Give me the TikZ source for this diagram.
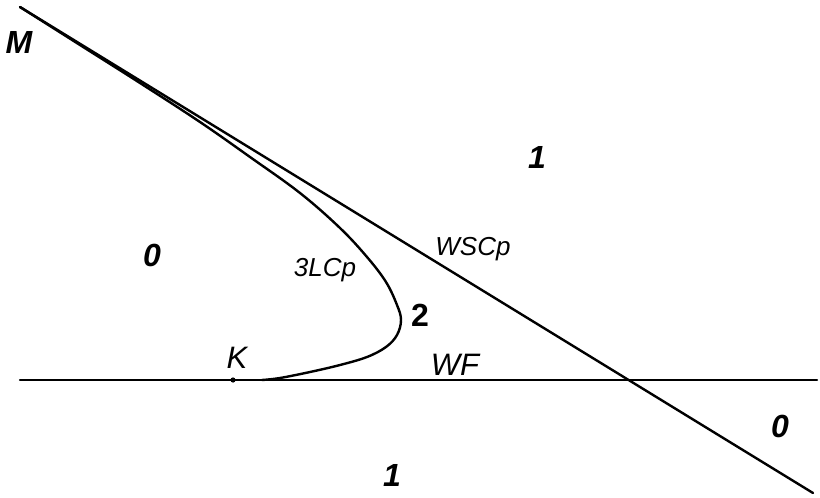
\documentclass[tikz,border=0pt]{standalone}
\usepackage{fontspec}
\setmainfont{Liberation Sans}
\begin{document}
\begin{tikzpicture}[x=1pt,y=-1pt,
  curveline/.style={line width=2.4pt,line cap=round,line join=round},
  lbl/.style={inner sep=0pt,font=\fontsize{31}{33}\selectfont\itshape},
  smalllbl/.style={inner sep=0pt,font=\fontsize{26}{28}\selectfont\itshape},
  region/.style={inner sep=0pt,font=\fontsize{32}{34}\selectfont\bfseries\itshape}]
\useasboundingbox (0,0) rectangle (820,498);
% coordinates
\coordinate (Mstart) at (20,7);
\coordinate (Mend) at (813,493);
\coordinate (Hl) at (20,380);
\coordinate (Hr) at (817,380);
\coordinate (Kpt) at (233,380);
% lines
\draw[curveline] (Hl) -- (Hr);
\draw[curveline] (Mstart) -- (Mend);
\draw[curveline] plot[smooth,tension=0.6] coordinates {(20,7) (80,45) (140,83) (200,122) (250,157) (300,193) (340,228) (367,257) (386,282) (397,305) (401,320) (397,335) (386,347) (367,357) (340,365) (310,372) (280,378) (262,380)};
\fill (Kpt) circle (2.6pt);
% labels
\node[region] (lM) at (19,42) {M};
\node[region] (l1a) at (537,157) {1};
\node[region] (l0a) at (152,255) {0};
\node[smalllbl] (l3LCp) at (325,270) {3LCp};
\node[smalllbl] (lWSCp) at (473,249) {WSCp};
\node[font=\fontsize{32}{34}\selectfont\bfseries,inner sep=0pt] (l2) at (420,315) {2};
\node[lbl] (lK) at (237,358) {K};
\node[lbl] (lWF) at (455,365) {WF};
\node[region] (l0b) at (780,426) {0};
\node[region] (l1b) at (392,475) {1};
\end{tikzpicture}
\end{document}
